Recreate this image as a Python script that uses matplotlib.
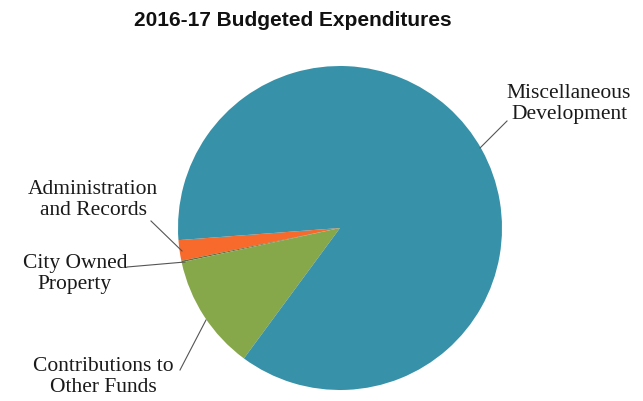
import matplotlib
matplotlib.use("Agg")
import matplotlib.pyplot as plt

# Budget shares (percent of total expenditures)
categories = ["Administration\nand Records", "City Owned\nProperty",
              "Contributions to\nOther Funds", "Miscellaneous\nDevelopment"]
shares = [2.05, 0.15, 11.5, 86.3]
colors = ["#f8692c", "#5f7040", "#87a74b", "#3791a8"]
title = "2016-17 Budgeted Expenditures"

W, H = 643, 401
fig = plt.figure(figsize=(W / 100, H / 100), dpi=100)
ax = fig.add_axes([0, 0, 1, 1])

cx, cy, r = 340, H - 228, 162
wedges, _ = ax.pie(shares, colors=colors, startangle=184.3, counterclock=True,
                   center=(cx, cy), radius=r,
                   wedgeprops=dict(linewidth=0))
ax.set_xlim(0, W)
ax.set_ylim(0, H)
ax.set_aspect("auto")
ax.axis("off")

fig.text(293 / W, 1 - 20 / H, title, ha="center", va="center",
         fontsize=15, fontweight="bold", family="Liberation Sans", color="#111111")

# label text centre (px) and leader line from text to slice (px)
label_pos = [(93, 200), (75, 274), (103, 377), (569, 104)]
leaders = [((151, 221), (182, 251)),
           ((127, 267), (185, 262)),
           ((180, 370), (206, 320)),
           ((507, 121), (480, 148))]

for lab, (tx, ty), ((x0, y0), (x1, y1)) in zip(categories, label_pos, leaders):
    ax.text(tx, H - ty, lab, ha="center", va="center", fontsize=15.5,
            family="Liberation Serif", color="#1a1a1a", linespacing=1.12)
    ax.plot([x0, x1], [H - y0, H - y1], color="#555555", linewidth=0.8)

fig.savefig("out.png", dpi=100, facecolor="white")
